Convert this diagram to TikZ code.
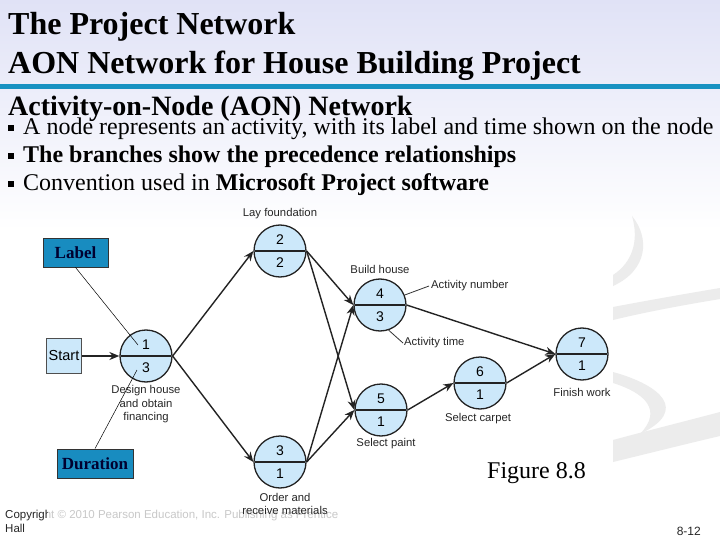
\documentclass[tikz,border=0pt]{standalone}
\usepackage{fontspec}
\setmainfont{Liberation Serif}
\newfontfamily\arialf{Liberation Sans}
\usetikzlibrary{arrows.meta,shapes.multipart}
\definecolor{nodeblue}{RGB}{204,232,250}
\definecolor{boxblue}{RGB}{24,140,192}
\definecolor{lineblue}{RGB}{24,146,194}
\definecolor{lav}{RGB}{224,226,246}
\definecolor{navy}{RGB}{0,0,48}
\definecolor{edgec}{RGB}{35,35,35}
\definecolor{swoosh}{RGB}{236,236,236}
\tikzset{
  actnode/.style={circle split, draw=edgec, line width=1.3pt, fill=nodeblue,
    minimum size=52pt, inner xsep=2pt, inner ysep=6pt,
    font=\arialf\fontsize{14}{14}\selectfont},
  startbox/.style={rectangle, draw=edgec!80, line width=1.2pt, fill=nodeblue,
    minimum width=35pt, minimum height=35pt, inner sep=0pt,
    font=\arialf\fontsize{14.5}{15}\selectfont},
  arr/.style={draw=edgec, line width=1.4pt, -{Stealth[length=10pt,width=8pt]}},
  capt/.style={font=\arialf\fontsize{11.3}{13.5}\selectfont, text=black!85, inner sep=0pt, align=center},
  keybox/.style={rectangle, draw=black!80, line width=0.8pt, fill=boxblue, inner sep=0pt,
    font=\bfseries\fontsize{17}{17}\selectfont, text=navy},
  leader/.style={draw=black, line width=0.5pt},
  ttl/.style={anchor=base west, inner sep=0pt, font=\bfseries\fontsize{32}{32}\selectfont, text=black},
  bul/.style={anchor=base west, inner sep=0pt, font=\fontsize{24}{24}\selectfont, text=black},
  bsq/.style={fill=black, draw=none}
}
\begin{document}
\begin{tikzpicture}[x=1pt,y=-1pt]
\useasboundingbox (0,0) rectangle (720,540);
% background
\fill[white] (0,0) rectangle (720,540);
\shade[top color=lav, bottom color=white] (0,0) rectangle (720,230);
\fill[lineblue] (0,84) rectangle (720,89.5);
% swooshes
\fill[swoosh] (632,216) .. controls (650,238) and (648,270) .. (613,286)
  -- (613,275) .. controls (633,262) and (639,240) .. (632,216) -- cycle;
\fill[swoosh] (613,307) .. controls (650,300) and (690,293) .. (720,288)
  -- (720,299) .. controls (690,304) and (650,311) .. (613,320) -- cycle;
\fill[swoosh] (613,372) .. controls (660,385) and (690,410) .. (640,434)
  .. controls (663,410) and (645,393) .. (613,383) -- cycle;
\fill[swoosh] (613,440) .. controls (650,430) and (690,420) .. (720,412)
  -- (720,436) .. controls (690,443) and (650,453) .. (613,462) -- cycle;
% titles
\node[ttl] (t1) at (8,35) {The Project Network};
\node[ttl] (t2) at (8,74) {AON Network for House Building Project};
\node[ttl, font=\bfseries\fontsize{28}{28}\selectfont] (t3) at (8,116) {Activity-on-Node (AON) Network};
\fill[bsq] (8,125) rectangle (13.5,131);
\node[bul] (b1) at (23,135) {A node represents an activity, with its label and time shown on the node};
\fill[bsq] (8,153) rectangle (13.5,159);
\node[bul, font=\bfseries\fontsize{24}{24}\selectfont] (b2) at (23,163) {The branches show the precedence relationships};
\fill[bsq] (8,181) rectangle (13.5,187);
\node[bul] (b3) at (23,191) {Convention used in \textbf{Microsoft Project software}};
% copyright
\node[anchor=base west, inner sep=0pt, font=\arialf\fontsize{11.5}{11.5}\selectfont, text=black!85] (cp1) at (5,518) {Copyright © 2010 Pearson Education, Inc. Publishing as Prentice};
\node[anchor=base west, inner sep=0pt, font=\arialf\fontsize{11.5}{11.5}\selectfont, text=black!85] (cp2) at (5,532) {Hall};
\fill[white, opacity=0.75] (48,508) rectangle (356,521);
\node[anchor=base east, inner sep=0pt, font=\arialf\fontsize{12}{12}\selectfont, text=black!85] (pg) at (701,535) {8-12};
% nodes
\node[startbox] (st) at (64,356) {Start};
\node[actnode] (n1) at (146,356) {1 \nodepart{lower} 3};
\node[actnode] (n2) at (280,251) {2 \nodepart{lower} 2};
\node[actnode] (n3) at (280,462) {3 \nodepart{lower} 1};
\node[actnode] (n4) at (380,305) {4 \nodepart{lower} 3};
\node[actnode] (n5) at (381,410) {5 \nodepart{lower} 1};
\node[actnode] (n6) at (480,383) {6 \nodepart{lower} 1};
\node[actnode] (n7) at (582,354) {7 \nodepart{lower} 1};
% edges
\draw[arr] (st) -- (n1.west);
\draw[arr] (n1.east) -- (n2.west);
\draw[arr] (n1.east) -- (n3.west);
\draw[arr] (n2.east) -- (n4.west);
\draw[arr] (n2.east) -- (n5.west);
\draw[arr] (n3.east) -- (n4.west);
\draw[arr] (n3.east) -- (n5.west);
\draw[arr] (n4.east) -- (n7.west);
\draw[arr] (n5.east) -- (n6.west);
\draw[arr] (n6.east) -- (n7.west);
% captions
\node[capt] (c2) at (280,214) {Lay foundation};
\node[capt] (c4) at (380,269) {Build house};
\node[capt, anchor=west] (anum) at (431,286) {Activity number};
\node[capt, anchor=west] (atim) at (404,343) {Activity time};
\draw[leader, draw=black!80, line width=0.8pt] (n4.22) -- ([xshift=-2pt]anum.west);
\draw[leader, draw=black!80, line width=0.8pt] (n4.-71) -- ([xshift=-1pt]atim.west);
\node[capt] (c1) at (146,404.5) {Design house\\and obtain\\financing};
\node[capt] (c3) at (285,504) {Order and\\receive materials};
\node[capt] (c5) at (386,444) {Select paint};
\node[capt] (c6) at (478,419) {Select carpet};
\node[capt] (c7) at (582,392) {Finish work};
\node[anchor=base west, inner sep=0pt, font=\fontsize{24}{24}\selectfont] (fig) at (487,478) {Figure 8.8};
% key boxes
\node[keybox, minimum width=65pt, minimum height=29pt] (lbl) at (75.5,252.5) {Label};
\node[keybox, minimum width=76pt, minimum height=29pt] (dur) at (95,463.5) {Duration};
\coordinate (lblend) at (138,345);
\coordinate (durend) at (137,370);
\draw[leader] (lbl.south) -- (lblend);
\draw[leader] (dur.north) -- (durend);
\end{tikzpicture}
\end{document}
